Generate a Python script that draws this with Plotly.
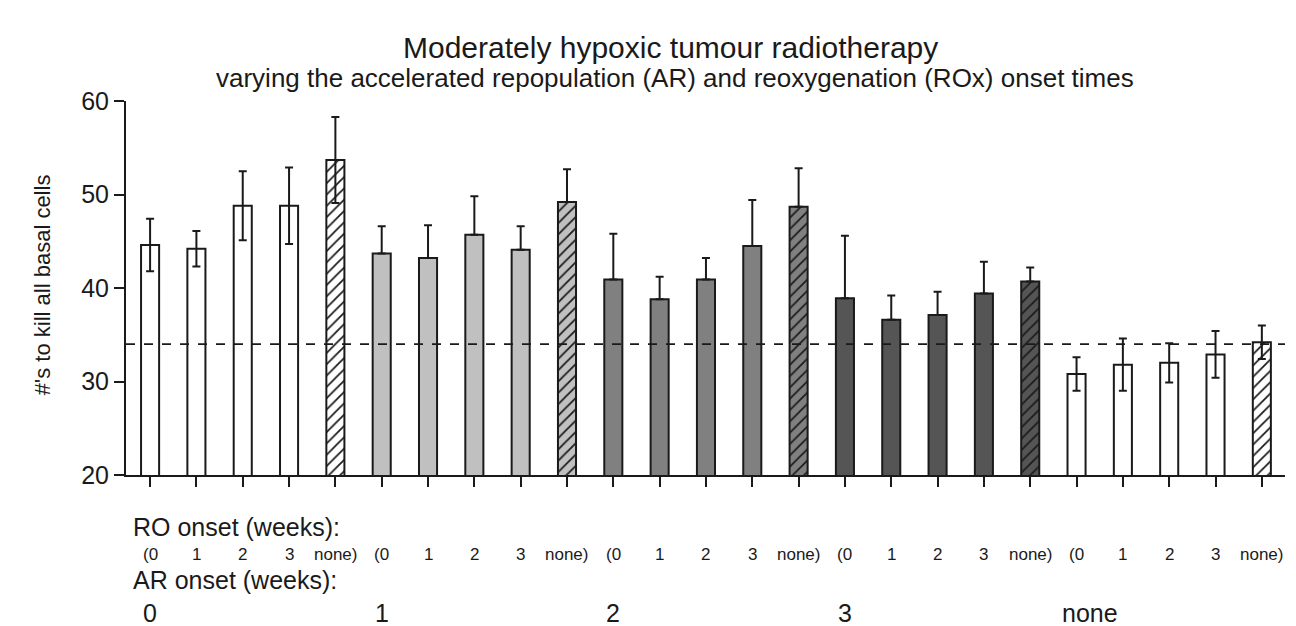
import plotly.graph_objects as go

# ---- data ----
ar_groups = ["0", "1", "2", "3", "none"]
ro_labels = ["(0", "1", "2", "3", "none)"]
means = [44.6, 44.2, 48.8, 48.8, 53.7,
         43.7, 43.2, 45.7, 44.1, 49.2,
         40.9, 38.8, 40.9, 44.5, 48.7,
         38.9, 36.6, 37.1, 39.4, 40.7,
         30.8, 31.8, 32.0, 32.9, 34.2]
errs = [2.8, 1.9, 3.7, 4.1, 4.6,
        2.9, 3.5, 4.1, 2.5, 3.5,
        4.9, 2.4, 2.3, 4.9, 4.1,
        6.7, 2.6, 2.5, 3.4, 1.5,
        1.8, 2.8, 2.1, 2.5, 1.8]
reference_line = 34
group_colors = ["#ffffff", "#c0c0c0", "#808080", "#555555", "#ffffff"]

FONT = "Arial, Liberation Sans, sans-serif"
INK = "#1a1a1a"

n_ro = len(ro_labels)
fig = go.Figure()
for g, col in enumerate(group_colors):
    xs = list(range(g * n_ro, (g + 1) * n_ro))
    ys = means[g * n_ro:(g + 1) * n_ro]
    es = errs[g * n_ro:(g + 1) * n_ro]
    lower = es if col == "#ffffff" else [0] * n_ro
    pat = ["/" if lab.startswith("none") else "" for lab in ro_labels]
    fig.add_trace(go.Bar(
        x=xs, y=ys, width=0.39,
        marker=dict(
            color=col,
            line=dict(color=INK, width=2),
            pattern=dict(shape=pat, fillmode="replace", fgcolor=INK,
                         bgcolor=col, size=8, solidity=0.22),
        ),
        error_y=dict(type="data", symmetric=False, array=es, arrayminus=lower,
                     color=INK, thickness=2, width=4),
        showlegend=False,
    ))

fig.add_shape(type="line", xref="paper", yref="y", x0=0, x1=1,
              y0=reference_line, y1=reference_line,
              line=dict(color=INK, width=1.6, dash="dash"))

ann = []
ann.append(dict(text="Moderately hypoxic tumour radiotherapy", x=0.470, y=1.142,
                xref="paper", yref="paper", showarrow=False, yanchor="middle",
                font=dict(size=30, family=FONT, color=INK)))
ann.append(dict(text="varying the accelerated repopulation (AR) and reoxygenation (ROx) onset times",
                x=0.474, y=1.061, xref="paper", yref="paper", showarrow=False,
                yanchor="middle", font=dict(size=26, family=FONT, color=INK)))
ann.append(dict(text="#'s to kill all basal cells", x=-0.0725, y=0.51, textangle=-90,
                xref="paper", yref="paper", showarrow=False,
                xanchor="center", yanchor="middle",
                font=dict(size=22, family=FONT, color=INK)))
ann.append(dict(text="RO onset (weeks):", x=0.004, y=-0.140, xanchor="left",
                yanchor="middle", xref="paper", yref="paper", showarrow=False,
                font=dict(size=25, family=FONT, color=INK)))
ann.append(dict(text="AR onset (weeks):", x=0.004, y=-0.280, xanchor="left",
                yanchor="middle", xref="paper", yref="paper", showarrow=False,
                font=dict(size=25, family=FONT, color=INK)))
for i in range(len(means)):
    ann.append(dict(text=ro_labels[i % n_ro], x=i, y=-0.212, xref="x", yref="paper",
                    yanchor="middle", showarrow=False,
                    font=dict(size=17, family=FONT, color=INK)))
for g, lab in enumerate(ar_groups):
    ann.append(dict(text=lab, x=g * n_ro + (0.3 if lab == "none" else 0), y=-0.369,
                    xref="x", yref="paper", yanchor="middle", showarrow=False,
                    font=dict(size=25, family=FONT, color=INK)))

fig.update_layout(
    width=1296, height=626,
    margin=dict(l=126, r=11, t=101, b=151),
    paper_bgcolor="white", plot_bgcolor="white",
    annotations=ann,
    barmode="overlay",
    xaxis=dict(range=[-0.52, 24.5], tickvals=list(range(len(means))),
               showticklabels=False,
               ticks="outside", ticklen=10, tickwidth=2, tickcolor=INK,
               showline=True, linecolor=INK, linewidth=2,
               showgrid=False, zeroline=False),
    yaxis=dict(range=[20, 60], tickvals=[20, 30, 40, 50, 60],
               ticks="outside", ticklen=10, tickwidth=2, tickcolor=INK,
               showline=True, linecolor=INK, linewidth=2,
               showgrid=False, zeroline=False,
               tickfont=dict(size=25, family=FONT, color=INK)),
)

fig.write_html("out.html")
